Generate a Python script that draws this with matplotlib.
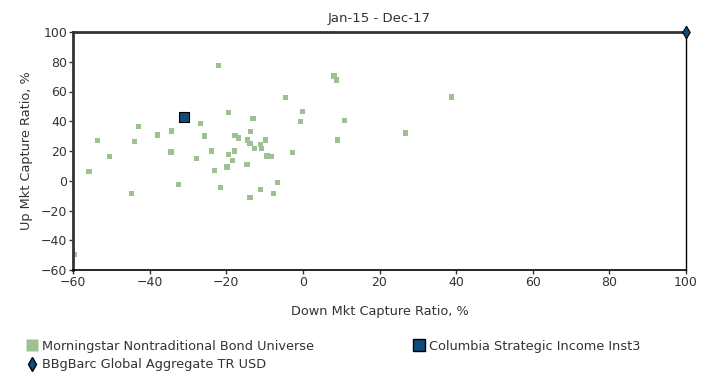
import matplotlib
matplotlib.use("Agg")
import matplotlib.pyplot as plt
from matplotlib.lines import Line2D

plt.rcParams['font.family'] = ['DejaVu Sans']

# peer universe (down capture, up capture)
universe_down = [-22.1, -19.5, -13.0, -26.8, -43.0, -34.3, -37.9, -25.7, -13.7, -53.6,
                 -44.0, -17.7, -16.8, -14.5, -13.8, -11.1, -10.7, -9.8, -12.7, -50.4,
                 -34.4, -23.8, -17.8, -19.5, -27.8, -18.4, -19.8, -14.6, -23.1, -9.35,
                 -8.2, -2.7, -32.5, -21.4, -6.7, -11.1, -7.6, -13.8, -59.6, -55.8,
                 -44.7, 8.1, 8.8, -4.6, -0.1, -0.6, 10.9, 9.1, 38.7, 26.7]
universe_up = [77.3, 46.0, 42.0, 38.6, 36.6, 33.4, 30.8, 30.1, 33.0, 27.2,
               26.5, 30.5, 28.7, 27.4, 25.2, 24.5, 21.8, 27.4, 21.8, 16.3,
               19.3, 20.0, 20.0, 17.9, 15.1, 13.8, 9.2, 11.0, 6.8, 16.6,
               16.2, 18.8, -2.6, -4.4, -1.0, -5.7, -8.4, -11.4, -49.5, 6.4,
               -8.4, 70.4, 67.7, 55.8, 46.4, 40.0, 40.7, 27.4, 56.3, 32.1]

fund_down = [-30.9]
fund_up = [42.9]

bench_down = [100]
bench_up = [100]

ticks = [-60, -40, -20, 0, 20, 40, 60, 80, 100]

green = '#9dc193'
navy = '#0e4d7a'
txt = '#333333'

fig = plt.figure(figsize=(7.19, 3.77), dpi=100)
ax = fig.add_axes([73 / 719, 1 - 270 / 377, 613 / 719, 238 / 377])

ax.scatter(universe_down, universe_up, s=14, marker='s', color=green, edgecolors='none', zorder=2)
ax.scatter(fund_down, fund_up, s=55, marker='s', color=navy, edgecolors='black', linewidths=0.8, zorder=3)
ax.scatter(bench_down, bench_up, s=40, marker='d', color=navy, edgecolors='black', linewidths=0.8,
           zorder=4, clip_on=False)

ax.set_xlim(-60, 100)
ax.set_ylim(-60, 100)
ax.set_xticks(ticks)
ax.set_yticks(ticks)
ax.tick_params(direction='out', length=3, width=1, colors=txt, labelsize=9, pad=1)

ax.spines['left'].set_linewidth(2)
ax.spines['left'].set_color('#333333')
ax.spines['top'].set_linewidth(2)
ax.spines['top'].set_color('#333333')
ax.spines['bottom'].set_linewidth(1.2)
ax.spines['bottom'].set_color('black')
ax.spines['right'].set_linewidth(1)
ax.spines['right'].set_color('black')

ax.set_title('Jan-15 - Dec-17', fontsize=9.5, color=txt, pad=7)
ax.set_xlabel('Down Mkt Capture Ratio, %', fontsize=9.3, color=txt, labelpad=12)
ax.set_ylabel('Up Mkt Capture Ratio, %', fontsize=9.3, color=txt, labelpad=6)

handles = [
    Line2D([], [], marker='s', linestyle='none', markersize=9, color=green, markeredgecolor='none'),
    Line2D([], [], marker='d', linestyle='none', markersize=7, color=navy, markeredgecolor='black'),
    Line2D([], [], marker='s', linestyle='none', markersize=9, color=navy, markeredgecolor='black'),
]
labels = ['Morningstar Nontraditional Bond Universe', 'BBgBarc Global Aggregate TR USD',
          'Columbia Strategic Income Inst3']
leg = fig.legend(handles, labels, ncol=2, loc='upper left', bbox_to_anchor=(0.03, 0.113),
                 frameon=False, fontsize=9.3, handlelength=0.8, handletextpad=0.4,
                 columnspacing=7.7, labelspacing=0.45, borderaxespad=0)
for t in leg.get_texts():
    t.set_color(txt)

fig.savefig('out.png', dpi=100)
